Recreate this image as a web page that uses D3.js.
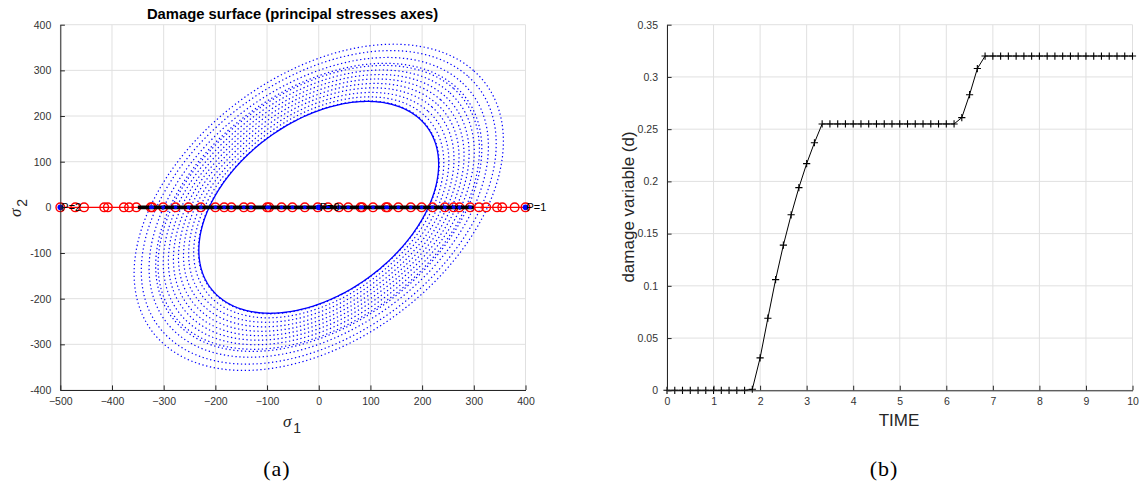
<!DOCTYPE html>
<html><head><meta charset="utf-8">
<script src="https://cdn.jsdelivr.net/npm/d3@7"></script>
<style>
html,body{margin:0;padding:0;background:#fff;}
</style></head>
<body>
<svg id="fig" width="1142" height="486" font-family="Liberation Sans, Arial, sans-serif"></svg>
<script>
// ---------- data: panel (a) ----------
const xTicksA = [-500,-400,-300,-200,-100,0,100,200,300,400];
const yTicksA = [-400,-300,-200,-100,0,100,200,300,400];
const surfaceR0 = 212;          // initial damage threshold (crossing of sigma1 axis)
const surfaceCoupling = 0.406;  // sigma1*sigma2 coupling of the ellipse
const dottedScales = [1.005,1.043,1.085,1.128,1.17,1.212,1.254,1.297,1.34,1.36,1.415,1.48,1.54];
const stressPath = [-500,-471,-454,-415,-408,-377,-367,-353,-325,-322,-301,-277,-252,-228,-200,-183,-169,-145,-131,-100,-96,-72,-51,-27,-2,18,39,57,81,84,105,130,133,154,178,199,220,244,261,272,293,310,324,345,355,379,400];
const blackPath = [-350,300];
const loadPoints = [{s:-500,label:"P=2"},{s:0,label:"P=0"},{s:400,label:"P=1"}];

// ---------- data: panel (b) ----------
const xTicksB = [0,1,2,3,4,5,6,7,8,9,10];
const yTicksB = [0,0.05,0.1,0.15,0.2,0.25,0.3,0.35];
const yTickLabelsB = ["0","0.05","0.1","0.15","0.2","0.25","0.3","0.35"];
const timeSteps = [0,0.167,0.333,0.5,0.667,0.833,1,1.167,1.333,1.5,1.667,1.833,2,2.167,2.333,2.5,2.667,2.833,3,3.167,3.333,3.5,3.667,3.833,4,4.167,4.333,4.5,4.667,4.833,5,5.167,5.333,5.5,5.667,5.833,6,6.167,6.333,6.5,6.667,6.833,7,7.167,7.333,7.5,7.667,7.833,8,8.167,8.333,8.5,8.667,8.833,9,9.167,9.333,9.5,9.667,9.833,10];
const damage = [0,0,0,0,0,0,0,0,0,0,0,0.001,0.031,0.069,0.106,0.139,0.168,0.194,0.217,0.237,0.255,0.255,0.255,0.255,0.255,0.255,0.255,0.255,0.255,0.255,0.255,0.255,0.255,0.255,0.255,0.255,0.255,0.255,0.261,0.283,0.308,0.32,0.32,0.32,0.32,0.32,0.32,0.32,0.32,0.32,0.32,0.32,0.32,0.32,0.32,0.32,0.32,0.32,0.32,0.32,0.32];

const svg = d3.select("#fig");
svg.append("rect").attr("width",1142).attr("height",486).attr("fill","#fff");
const AX = "#262626", GRID = "#e0e0e0";
const SANS = "Liberation Sans, Arial, sans-serif", SERIF = "Liberation Serif, Times New Roman, serif";

function drawGrid(g, x, y, xt, yt){
  const [x0,x1] = x.range(), [y0,y1] = y.range();
  g.selectAll(".gx").data(xt).join("line").attr("x1",d=>x(d)).attr("x2",d=>x(d)).attr("y1",y0).attr("y2",y1).attr("stroke",GRID).attr("stroke-width",1);
  g.selectAll(".gy").data(yt).join("line").attr("y1",d=>y(d)).attr("y2",d=>y(d)).attr("x1",x0).attr("x2",x1).attr("stroke",GRID).attr("stroke-width",1);
}
function drawAxisLines(g, x, y, xt, yt, ytl){
  const [x0] = x.range(), [y0] = y.range();
  const xa = d3.axisBottom(x).tickValues(xt).tickSizeInner(-4.6).tickSizeOuter(0).tickPadding(9);
  const ya = d3.axisLeft(y).tickValues(yt).tickSizeInner(-4.6).tickSizeOuter(0).tickPadding(9).tickFormat((d,i)=>ytl?ytl[i]:d);
  const gx = g.append("g").attr("transform",`translate(0,${y0})`).call(xa);
  const gy = g.append("g").attr("transform",`translate(${x0},0)`).call(ya);
  [gx,gy].forEach(a=>{
    a.attr("font-family",SANS);
    a.select(".domain").attr("stroke",AX).attr("stroke-width",1);
    a.selectAll(".tick line").attr("stroke",AX).attr("stroke-width",1);
    a.selectAll(".tick text").attr("fill","#333").attr("font-size","10.5px");
  });
  gx.selectAll(".tick text").attr("dy","0.55em");
}

// ---------- panel (a) ----------
const xA = d3.scaleLinear().domain([-500,400]).range([60.3,525.5]);
const yA = d3.scaleLinear().domain([-400,400]).range([390,24.7]);
const gA = svg.append("g");
drawGrid(gA,xA,yA,xTicksA,yTicksA);

function ellipsePts(k){
  const A = k*surfaceR0/Math.sqrt(1-surfaceCoupling), B = k*surfaceR0/Math.sqrt(1+surfaceCoupling);
  return d3.range(0,360,1).map(deg=>{
    const t = deg*Math.PI/180, u = A*Math.cos(t), v = B*Math.sin(t);
    return [(u-v)/Math.SQRT2,(u+v)/Math.SQRT2];
  });
}
const eLine = d3.line().x(d=>xA(d[0])).y(d=>yA(d[1])).curve(d3.curveLinearClosed);
gA.selectAll(".dot-ell").data(dottedScales).join("path")
  .attr("d",k=>eLine(ellipsePts(k))).attr("fill","none").attr("stroke","#0000ff")
  .attr("stroke-width",1.2).attr("stroke-dasharray","1.3,2.6");
gA.append("path").attr("d",eLine(ellipsePts(1))).attr("fill","none").attr("stroke","#0000ff").attr("stroke-width",1.3);

// stress path
gA.append("line").attr("x1",xA(d3.min(stressPath))).attr("x2",xA(d3.max(stressPath))).attr("y1",yA(0)).attr("y2",yA(0)).attr("stroke","#ff0000").attr("stroke-width",1.2);
gA.selectAll(".rc").data(stressPath).join("circle").attr("cx",d=>xA(d)).attr("cy",yA(0)).attr("r",4.3)
  .attr("fill","none").attr("stroke","#ff0000").attr("stroke-width",1.4);
gA.append("line").attr("x1",xA(blackPath[0])).attr("x2",xA(blackPath[1])).attr("y1",yA(0)).attr("y2",yA(0)).attr("stroke","#000").attr("stroke-width",3.6);
gA.selectAll(".bd").data(stressPath.filter(s=>s>=blackPath[0]&&s<=blackPath[1])).join("circle")
  .attr("cx",d=>xA(d)).attr("cy",yA(0)).attr("r",1.8).attr("fill","#0000ff");
gA.selectAll(".lp").data(loadPoints).join("circle").attr("cx",d=>xA(d.s)).attr("cy",yA(0)).attr("r",2.8).attr("fill","#0000ff");
gA.selectAll(".lt").data(loadPoints).join("text").attr("x",d=>xA(d.s)+1).attr("y",yA(0)).attr("dy","0.35em")
  .attr("font-size","11px").attr("font-family",SANS).attr("fill","#000").text(d=>d.label);

drawAxisLines(gA,xA,yA,xTicksA,yTicksA);

// title & labels
svg.append("text").attr("x",292.5).attr("y",19.3).attr("text-anchor","middle").attr("font-weight","bold")
  .attr("font-size","14.8px").attr("font-family",SANS).attr("fill","#000").text("Damage surface (principal stresses axes)");
const xl = svg.append("text").attr("x",292).attr("y",426.5).attr("text-anchor","middle").attr("fill","#262626");
xl.append("tspan").attr("font-family",SERIF).attr("font-style","italic").attr("font-size","17px").text("σ");
xl.append("tspan").attr("font-family",SANS).attr("font-size","14px").attr("dy","6").attr("dx","2").text("1");
const yl = svg.append("text").attr("transform","translate(21,208) rotate(-90)").attr("text-anchor","middle").attr("fill","#262626");
yl.append("tspan").attr("font-family",SERIF).attr("font-style","italic").attr("font-size","17px").text("σ");
yl.append("tspan").attr("font-family",SANS).attr("font-size","14px").attr("dy","6").attr("dx","2").text("2");

// ---------- panel (b) ----------
const xB = d3.scaleLinear().domain([0,10]).range([667,1132.5]);
const yB = d3.scaleLinear().domain([0,0.35]).range([390.3,24.7]);
const gB = svg.append("g");
drawGrid(gB,xB,yB,xTicksB,yTicksB);
const pts = timeSteps.map((t,i)=>[t,damage[i]]);
gB.append("path").attr("d",d3.line().x(d=>xB(d[0])).y(d=>yB(d[1]))(pts)).attr("fill","none").attr("stroke","#000").attr("stroke-width",1);
const mk = 3.6;
gB.selectAll(".pm").data(pts).join("path")
  .attr("d",d=>`M${xB(d[0])-mk},${yB(d[1])}H${xB(d[0])+mk}M${xB(d[0])},${yB(d[1])-mk}V${yB(d[1])+mk}`)
  .attr("stroke","#000").attr("stroke-width",1.1).attr("fill","none");
drawAxisLines(gB,xB,yB,xTicksB,yTicksB,yTickLabelsB);
svg.append("text").attr("x",899).attr("y",426).attr("text-anchor","middle").attr("font-size","17px").attr("font-family",SANS).attr("fill","#262626").text("TIME");
svg.append("text").attr("transform","translate(634,207) rotate(-90)").attr("text-anchor","middle").attr("font-size","17px").attr("font-family",SANS).attr("fill","#262626").text("damage variable (d)");

// captions
svg.append("text").attr("x",277).attr("y",476).attr("text-anchor","middle").attr("font-family",SERIF).attr("font-size","22px").attr("letter-spacing","1px").attr("fill","#000").text("(a)");
svg.append("text").attr("x",884).attr("y",476).attr("text-anchor","middle").attr("font-family",SERIF).attr("font-size","22px").attr("letter-spacing","1px").attr("fill","#000").text("(b)");
</script>
</body></html>
